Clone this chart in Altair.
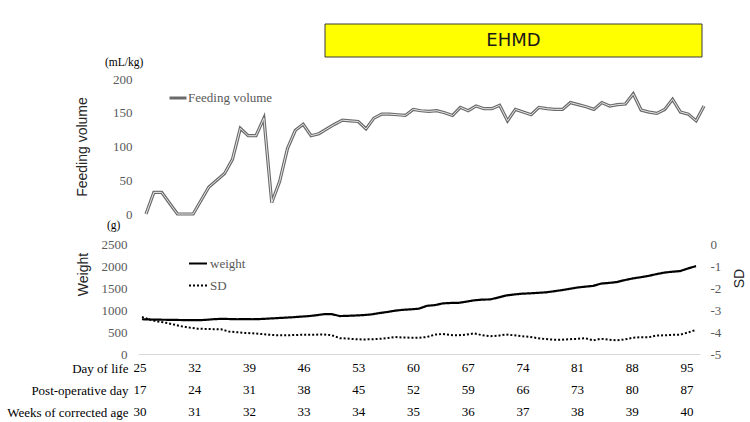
import altair as alt
import pandas as pd

# ---------------- data ----------------
feed_days = list(range(25, 97))
feeding_volume = [0, 32, 32, 16, 0, 0, 0, 20, 40, 50,
                  60, 81, 127, 116, 116, 142, 17, 48, 97, 124,
                  133, 116, 119, 126, 133, 139, 138, 137, 126, 142,
                  148, 148, 147, 146, 155, 153, 152, 153, 150, 146,
                  158, 153, 160, 156, 156, 161, 138, 155, 151, 147,
                  158, 156, 155, 155, 165, 162, 159, 155, 165, 160,
                  162, 163, 178, 154, 151, 149, 155, 170, 151, 148,
                  138, 160]

body_days = list(range(25, 96))
weight_g = [790, 785, 780, 778, 775, 772, 770, 768, 775, 790,
            800, 795, 790, 792, 790, 795, 805, 815, 825, 835,
            848, 860, 880, 905, 905, 862, 868, 875, 885, 900,
            930, 955, 985, 1005, 1015, 1030, 1095, 1110, 1150, 1160,
            1162, 1190, 1220, 1237, 1240, 1283, 1330, 1352, 1370, 1378,
            1390, 1400, 1425, 1450, 1480, 1511, 1530, 1548, 1600, 1615,
            1635, 1680, 1717, 1745, 1776, 1815, 1850, 1870, 1885, 1945,
            1998]
weight_sd = [-3.32, -3.44, -3.52, -3.58, -3.66, -3.74, -3.80, -3.85, -3.86, -3.87,
             -3.88, -3.98, -4.01, -4.04, -4.06, -4.09, -4.12, -4.15, -4.15, -4.14,
             -4.13, -4.12, -4.12, -4.11, -4.15, -4.28, -4.30, -4.33, -4.34, -4.33,
             -4.31, -4.28, -4.23, -4.25, -4.26, -4.26, -4.23, -4.12, -4.09, -4.14,
             -4.15, -4.12, -4.06, -4.15, -4.19, -4.17, -4.11, -4.15, -4.19, -4.22,
             -4.28, -4.32, -4.35, -4.35, -4.33, -4.31, -4.28, -4.38, -4.31, -4.35,
             -4.38, -4.34, -4.26, -4.24, -4.24, -4.16, -4.15, -4.13, -4.12, -4.02,
             -3.90]

tick_days = [25, 32, 39, 46, 53, 60, 67, 74, 81, 88, 95]
day_of_life = ["25", "32", "39", "46", "53", "60", "67", "74", "81", "88", "95"]
post_operative_day = ["17", "24", "31", "38", "45", "52", "59", "66", "73", "80", "87"]
weeks_corrected_age = ["30", "31", "32", "33", "34", "35", "36", "37", "38", "39", "40"]
row_names = ["Day of life", "Post-operative day", "Weeks of corrected age"]

feed_ticks = [0, 50, 100, 150, 200]
weight_ticks = [0, 500, 1000, 1500, 2000, 2500]
sd_ticks = [-5, -4, -3, -2, -1, 0]

banner_text = ["EHMD"]
feed_unit = ["(mL/kg)"]
weight_unit = ["(g)"]

# ---------------- styling ----------------
SERIF = "Liberation Serif"
SANS = "Liberation Sans"
GRAY = "#595959"

feed_df = pd.DataFrame({"day": feed_days, "volume": feeding_volume,
                        "series": "Feeding volume"})
w_df = pd.DataFrame({"day": body_days, "weight": weight_g, "series": "weight"})
sd_df = pd.DataFrame({"day": body_days, "sd": weight_sd, "series": "SD"})
lab_rows = []
for name, vals in zip(row_names, [day_of_life, post_operative_day, weeks_corrected_age]):
    for d, t in zip(tick_days, vals):
        lab_rows.append({"row": name, "pos": d, "text": t})
lab_df = pd.DataFrame(lab_rows)
banner_df = pd.DataFrame({"label": banner_text})
feed_unit_df = pd.DataFrame({"label": feed_unit})
weight_unit_df = pd.DataFrame({"label": weight_unit})

# ---------------- top panel: feeding volume ----------------
x_top = alt.X("day:Q", scale=alt.Scale(domain=[23.982, 96.0], nice=False, zero=False),
              axis=None)
y_feed = alt.Y("volume:Q", scale=alt.Scale(domain=[0, 200], nice=False),
               axis=alt.Axis(values=feed_ticks, title="Feeding volume",
                             titleFont=SANS, titleFontSize=14, titleFontWeight="normal",
                             titleColor="#262626", titlePadding=23,
                             labelFont=SERIF, labelFontSize=13, labelColor=GRAY,
                             labelPadding=6, ticks=False, tickSize=0, labelOverlap=False,
                             domain=False, grid=False))

feed_outer = alt.Chart(feed_df).mark_line(strokeWidth=3.2).encode(
    x=x_top, y=y_feed,
    color=alt.Color("series:N",
                    scale=alt.Scale(domain=["Feeding volume"], range=["#6a6a6a"]),
                    legend=alt.Legend(orient="none", legendX=30, legendY=9, title=None,
                                      symbolType="stroke", symbolSize=289,
                                      symbolStrokeWidth=3, labelFont=SERIF,
                                      labelFontSize=13, labelColor=GRAY,
                                      labelOffset=0, padding=0)))
feed_inner = alt.Chart(feed_df).mark_line(strokeWidth=1, color="#e8e8e8").encode(
    x=x_top, y=y_feed)

box = alt.Chart(banner_df).mark_rect(fill="#ffff00", stroke="#3a3a3a", strokeWidth=1).encode(
    x=alt.value(187), x2=alt.value(564), y=alt.value(-55), y2=alt.value(-22))
box_text = alt.Chart(banner_df).mark_text(font="DejaVu Sans", fontSize=18,
                                          color="#1a1a1a").encode(
    x=alt.value(375.5), y=alt.value(-38.5), text="label:N")
feed_unit_text = alt.Chart(feed_unit_df).mark_text(
    font=SERIF, fontSize=11.5, color="black", align="left", baseline="middle").encode(
    x=alt.value(-33), y=alt.value(-16), text="label:N")

top = alt.layer(box, box_text, feed_unit_text, feed_outer, feed_inner).properties(
    width=566, height=135)

# ---------------- bottom panel: weight and SD ----------------
x_bot = alt.X("day:Q", scale=alt.Scale(domain=[24.5, 95.5], nice=False, zero=False),
              axis=alt.Axis(labels=False, ticks=False, grid=False, domain=True,
                            domainColor="#d9d9d9", domainWidth=1, title=None))
dash = alt.StrokeDash("series:N",
                      scale=alt.Scale(domain=["weight", "SD"], range=[[1, 0], [2, 2]]),
                      legend=alt.Legend(orient="none", legendX=50, legendY=9.5, title=None,
                                        symbolType="stroke", symbolSize=324,
                                        symbolStrokeWidth=2, symbolStrokeColor="black",
                                        labelFont=SERIF, labelFontSize=13, labelColor=GRAY,
                                        rowPadding=5, labelOffset=2, padding=0,
                                        direction="vertical"))

weight_line = alt.Chart(w_df).mark_line(strokeWidth=2.2, color="black").encode(
    x=x_bot,
    y=alt.Y("weight:Q", scale=alt.Scale(domain=[0, 2500], nice=False),
            axis=alt.Axis(orient="left", values=weight_ticks, format="d", title="Weight",
                          titleFont=SANS, titleFontSize=14, titleFontWeight="normal",
                          titleColor="#262626", titlePadding=11, titleY=30,
                          labelFont=SERIF, labelFontSize=13, labelColor=GRAY,
                          labelPadding=11, ticks=False, tickSize=0, labelOverlap=False,
                          domain=False, grid=False)),
    strokeDash=dash)

sd_line = alt.Chart(sd_df).mark_line(strokeWidth=2, color="black").encode(
    x=x_bot,
    y=alt.Y("sd:Q", scale=alt.Scale(domain=[-5, 0], nice=False, zero=False),
            axis=alt.Axis(orient="right", values=sd_ticks, title="SD",
                          labelExpr="datum.value == 0 ? '0' : '-' + abs(datum.value)",
                          titleFont=SANS, titleFontSize=14, titleFontWeight="normal",
                          titleColor="#262626", titlePadding=26, titleY=34,
                          titleAngle=270,
                          labelFont=SERIF, labelFontSize=13, labelColor=GRAY,
                          labelPadding=10, ticks=False, tickSize=0, labelOverlap=False,
                          domain=False, grid=False)),
    strokeDash=dash)

weight_unit_text = alt.Chart(weight_unit_df).mark_text(
    font=SERIF, fontSize=11.5, color="black", align="left", baseline="middle").encode(
    x=alt.value(-31), y=alt.value(-18), text="label:N")

bottom = alt.layer(weight_unit_text, weight_line, sd_line).resolve_scale(
    y="independent").properties(width=562, height=110)

# ---------------- label rows under the x axis ----------------
labels = alt.Chart(lab_df).mark_text(font=SERIF, fontSize=13, color="black").encode(
    x=alt.X("pos:Q", scale=alt.Scale(domain=[24.744, 96.66], nice=False, zero=False),
            axis=None),
    y=alt.Y("row:N", sort=row_names,
            axis=alt.Axis(title=None, domain=False, ticks=False, tickSize=0,
                          labelFont=SERIF, labelFontSize=13, labelColor="black",
                          labelPadding=10, labelLimit=0)),
    text="text:N").properties(width=562, height=66)

inner = alt.vconcat(bottom, labels, spacing=3, bounds="flush").resolve_scale(
    strokeDash="independent")

chart = alt.vconcat(top, inner, spacing=30, bounds="flush").resolve_scale(
    color="independent", strokeDash="independent").properties(
    autosize=alt.AutoSizeParams(type="none"),
    padding={"left": 138, "top": 79, "right": 612, "bottom": 343},
    background="white",
).configure_view(stroke=None)

chart.save("out.html", embed_options={"renderer": "svg", "actions": False})
